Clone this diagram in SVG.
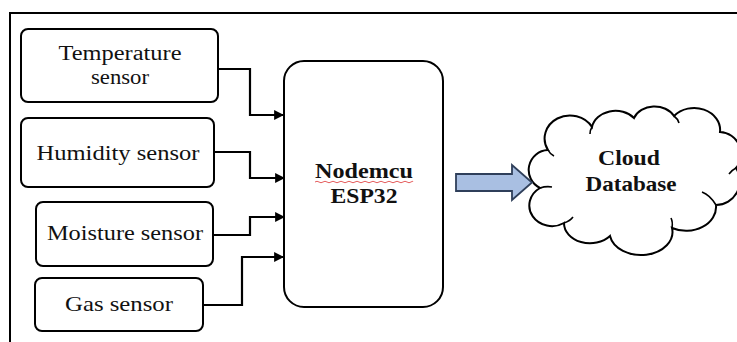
<svg xmlns="http://www.w3.org/2000/svg" width="737" height="342" viewBox="0 0 737 342">
<style>
.box{fill:#fff;stroke:#000;stroke-width:2}
.t{font-family:"Liberation Serif","Tinos","Times New Roman","DejaVu Serif",serif;font-size:22px;fill:#111;text-anchor:middle}
.s{font-size:20px}
.b{font-family:"Liberation Serif","Tinos","Times New Roman","DejaVu Serif",serif;font-size:22px;font-weight:bold;fill:#111;text-anchor:middle}
.c{fill:none;stroke:#000;stroke-width:2.2;marker-end:url(#ah)}
</style>
<defs>
<marker id="ah" viewBox="0 0 10 10" refX="10" refY="5" markerWidth="5" markerHeight="4.5" markerUnits="strokeWidth" orient="auto">
<path d="M0,0 L10,5 L0,10 Z" fill="#000"/>
</marker>
</defs>
<rect width="737" height="342" fill="#fff"/>
<path d="M10,342 V13 H737" fill="none" stroke="#000" stroke-width="2"/>
<g id="temperature">
<rect class="box" x="21" y="29" width="197" height="73" rx="7"/>
<text class="t s" x="120" y="60" textLength="123" lengthAdjust="spacingAndGlyphs">Temperature</text>
<text class="t s" x="120" y="84" textLength="58" lengthAdjust="spacingAndGlyphs">sensor</text>
</g>
<g id="humidity">
<rect class="box" x="21" y="118" width="193" height="69" rx="7"/>
<text class="t" x="118" y="160" textLength="163" lengthAdjust="spacingAndGlyphs">Humidity sensor</text>
</g>
<g id="moisture">
<rect class="box" x="36" y="202" width="177" height="64" rx="7"/>
<text class="t" x="125" y="240" textLength="156" lengthAdjust="spacingAndGlyphs">Moisture sensor</text>
</g>
<g id="gas">
<rect class="box" x="35" y="278" width="168" height="53" rx="7"/>
<text class="t" x="119" y="311" textLength="108" lengthAdjust="spacingAndGlyphs">Gas sensor</text>
</g>
<g id="nodemcu">
<rect class="box" x="284" y="61" width="159" height="246" rx="20"/>
<text class="b" x="364" y="178" textLength="98" lengthAdjust="spacingAndGlyphs">Nodemcu</text>
<path d="M315,182 q2,-1.5 4,0 t4,0 t4,0 t4,0 t4,0 t4,0 t4,0 t4,0 t4,0 t4,0 t4,0 t4,0 t4,0 t4,0 t4,0 t4,0 t4,0 t4,0 t4,0 t4,0 t4,0 t4,0 t4,0 t4,0 t2,0" fill="none" stroke="#d33" stroke-width="0.8"/>
<text class="b" x="364" y="203" textLength="67" lengthAdjust="spacingAndGlyphs">ESP32</text>
</g>
<g id="cloud">
<path d="M548,150 A22 20 0 0 1 592,127 A24 20 0 0 1 634,118 A22 18 0 0 1 674,116 A26 22 0 0 1 720,132 A22 22 0 0 1 736,168 A24 24 0 0 1 716,205 A30 24 0 0 1 672,228 A30 22 0 0 1 610,236 A26 20 0 0 1 564,223 A22 20 0 0 1 540,188 A20 20 0 0 1 548,150 Z" fill="#fff" stroke="#000" stroke-width="2"/>
<path d="M548,150 q2,4 6,6 M592,127 q-2,3 -2,7 M674,116 q4,3 5,7 M736,168 q-4,2 -7,6 M716,205 q-6,-10 -14,-13 M672,228 q1,-6 -1,-10 M564,223 q6,-2 9,-6 M540,188 q6,-2 12,-1" fill="none" stroke="#000" stroke-width="1.6"/>
<text class="b" x="629" y="165" textLength="62" lengthAdjust="spacingAndGlyphs">Cloud</text>
<text class="b" x="631" y="191" textLength="91" lengthAdjust="spacingAndGlyphs">Database</text>
</g>
<g id="connectors">
<path class="c" d="M218,69 H250 V115 H284"/>
<path class="c" d="M214,152 H250 V178 H285"/>
<path class="c" d="M213,235 H250 V217 H285"/>
<path class="c" d="M203,305 H242 V257 H284"/>
<path d="M456,174 H512 V165 L532,182.5 L512,200 V191 H456 Z" fill="#a9bfe2" stroke="#2f3f5a" stroke-width="1.8"/>
</g>
</svg>
